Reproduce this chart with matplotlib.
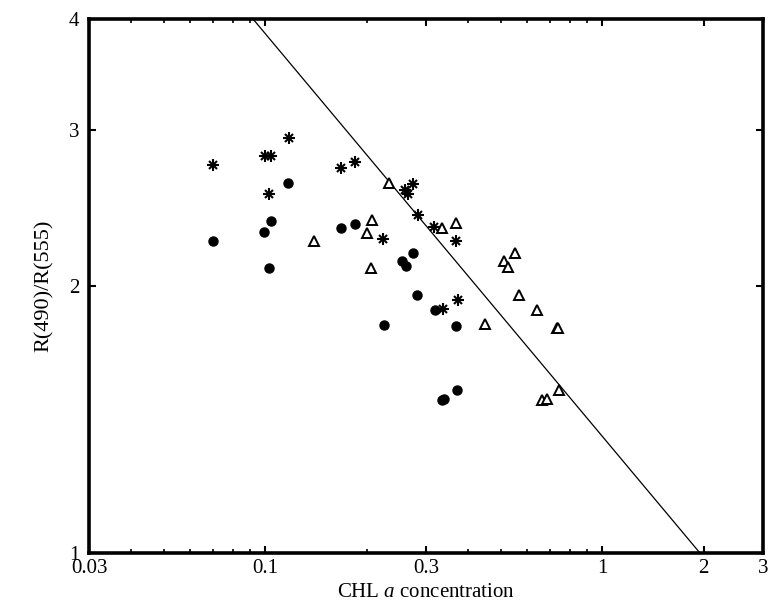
import matplotlib
matplotlib.use("Agg")
import matplotlib.pyplot as plt
from matplotlib.ticker import FixedLocator, NullLocator, FixedFormatter

plt.rcParams['font.family'] = ['Liberation Serif', 'DejaVu Serif']
plt.rcParams['mathtext.fontset'] = 'custom'
plt.rcParams['mathtext.rm'] = 'Liberation Serif'
plt.rcParams['mathtext.it'] = 'Liberation Serif:italic'

# filled circles
circ_x = [0.0698, 0.1028, 0.0994, 0.1038, 0.1171, 0.1675, 0.1843, 0.2552, 0.2622,
          0.2745, 0.2827, 0.319, 0.2244, 0.3675, 0.3708, 0.334, 0.3393]
circ_y = [2.248, 2.094, 2.299, 2.370, 2.611, 2.327, 2.351, 2.136, 2.106,
          2.181, 1.952, 1.879, 1.807, 1.801, 1.525, 1.488, 1.490]

# asterisks
ast_x = [0.0701, 0.0999, 0.104, 0.1177, 0.1028, 0.1675, 0.1847, 0.224, 0.260,
         0.265, 0.275, 0.2835, 0.3175, 0.368, 0.3727, 0.3375]
ast_y = [2.738, 2.803, 2.803, 2.935, 2.537, 2.719, 2.761, 2.259, 2.566,
         2.540, 2.606, 2.405, 2.329, 2.248, 1.929, 1.883]

# open triangles
tri_x = [0.1399, 0.2004, 0.2078, 0.206, 0.2334, 0.334, 0.3675, 0.449, 0.551,
         0.510, 0.525, 0.5676, 0.639, 0.732, 0.740, 0.746, 0.664, 0.684]
tri_y = [2.248, 2.296, 2.372, 2.094, 2.615, 2.327, 2.353, 1.810, 2.181,
         2.136, 2.099, 1.954, 1.877, 1.795, 1.795, 1.527, 1.488, 1.493]

# model line
line_x = [0.092, 1.95]
line_y = [4.0, 1.0]

xticks = [0.03, 0.1, 0.3, 1, 2, 3]
xtick_labels = ["0.03", "0.1", "0.3", "1", "2", "3"]
yticks = [1, 2, 3, 4]
ytick_labels = ["1", "2", "3", "4"]

fig = plt.figure(figsize=(7.69, 6.15), dpi=100)
ax = fig.add_axes([89 / 769, 1 - 553 / 615, (763 - 89) / 769, (553 - 19) / 615])

ax.plot(line_x, line_y, color='black', lw=0.9)
ax.plot(circ_x, circ_y, 'o', color='black', ms=6.5, ls='none')
ax.plot(ast_x, ast_y, '+', color='black', ms=8, mew=1.5, ls='none')
ax.plot(ast_x, ast_y, 'x', color='black', ms=6, mew=1.5, ls='none')
ax.plot(tri_x, tri_y, '^', mfc='white', mec='black', ms=7.5, mew=1.4, ls='none')

ax.set_xscale('log')
ax.set_yscale('log')
ax.set_xlim(0.03, 3)
ax.set_ylim(1, 4)

ax.xaxis.set_major_locator(FixedLocator(xticks))
ax.xaxis.set_major_formatter(FixedFormatter(xtick_labels))
ax.yaxis.set_major_locator(FixedLocator(yticks))
ax.yaxis.set_major_formatter(FixedFormatter(ytick_labels))
ax.yaxis.set_minor_locator(NullLocator())

ax.tick_params(which='both', direction='in', top=True, right=True, labelsize=15)
ax.tick_params(which='major', length=5, width=1.5)
ax.tick_params(which='minor', length=3, width=1.2)
ax.tick_params(axis='x', pad=4)
ax.tick_params(axis='y', pad=7)

for s in ax.spines.values():
    s.set_linewidth(2.6)

ax.set_xlabel("CHL $\\it{a}$ concentration", fontsize=15, labelpad=4)
ax.set_ylabel("R(490)/R(555)", fontsize=16, labelpad=11)

fig.savefig("out.png", dpi=100)
